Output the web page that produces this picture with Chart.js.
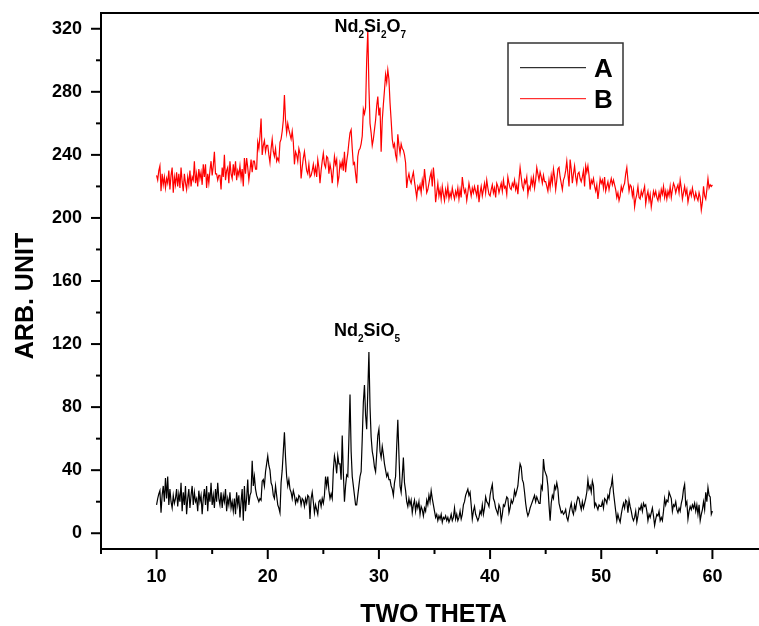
<!DOCTYPE html>
<html><head><meta charset="utf-8">
<script src="https://cdn.jsdelivr.net/npm/chart.js@4"></script>
<style>html,body{margin:0;padding:0;background:#fff;overflow:hidden;width:759px;height:626px}canvas{display:block}</style>
</head><body>
<canvas id="c" width="768" height="626"></canvas>
<script>
// ---- data ----
const X_START = 10, X_STEP = 0.1;           // two-theta sampling of both scans (10 .. 60)
const SERIES_NAMES = ['A', 'B'];
const SERIES_A = [
18,22,25,27,13,24,30,20,35,22,
36,18,28,20,16,24,19,22,28,17,
25,20,32,14,26,18,30,12,22,28,
16,24,30,18,26,20,22,14,27,20,
24,12,22,28,18,30,14,26,20,32,
18,24,16,28,20,32,22,18,26,16,
24,20,28,14,22,18,26,16,20,14,
22,12,26,18,24,10,20,28,8,30,
14,22,34,18,24,26,46,30,36,28,
24,22,20,22,21,33,34,30,39,44,
49,43,40,32,30,24,22,30,24,18,
16,13,32,40,52,64,48,36,30,34,
28,26,22,27,24,19,22,20,24,23,
18,22,21,17,22,19,24,23,9,22,
26,20,13,18,15,12,20,21,17,22,
19,24,36,30,36,27,22,25,22,40,
49,45,38,49,44,44,34,62,38,20,
30,37,36,60,88,52,36,30,24,18,
18,24,30,36,39,60,83,94,75,66,
90,115,80,61,52,48,42,39,50,62,
66,52,48,55,50,44,40,36,38,34,
34,30,28,24,32,36,55,72,50,30,
26,36,48,32,27,20,17,22,18,21,
13,18,21,14,19,16,20,12,17,15,
11,16,14,21,18,24,20,27,22,18,
14,10,12,8,11,9,12,7,10,9,
11,8,10,7,9,12,8,10,16,9,
12,8,10,14,9,12,18,20,24,26,
28,24,26,18,9,14,17,12,10,8,
10,14,12,18,12,16,23,20,19,17,
24,28,31,22,20,16,14,12,18,16,
8,12,18,17,20,23,22,13,16,21,
19,21,27,24,27,30,38,44,42,34,
32,26,19,14,11,13,16,18,20,22,
24,20,23,21,19,19,30,28,47,40,
38,36,30,18,8,19,24,22,30,28,
32,28,19,16,13,14,12,13,15,10,
8,12,16,19,14,12,18,15,20,23,
22,18,15,20,16,19,22,26,34,28,
30,26,33,30,17,19,17,15,18,17,
17,20,16,22,21,19,24,22,28,30,
35,26,20,14,8,12,9,7,12,16,
19,16,21,20,13,21,17,14,10,8,
10,14,7,11,16,15,18,14,19,17,
18,14,8,12,10,13,16,11,5,9,
12,11,14,8,10,8,14,22,18,21,
20,26,24,22,14,18,17,20,15,13,
16,14,19,22,28,31,18,20,9,14,
17,15,18,16,19,14,18,12,18,8,
12,15,20,15,26,20,29,24,23,12,
14];
const SERIES_B = [
227,224,230,233,217,228,221,226,219,225,
222,230,218,227,232,216,226,221,229,220,
228,219,232,223,217,228,222,218,226,221,
230,220,226,224,236,222,228,220,231,225,
229,221,234,226,234,219,228,222,230,236,
227,233,242,228,228,224,227,227,218,232,
226,240,224,230,232,222,236,228,225,234,
227,236,224,230,227,233,225,231,220,238,
228,238,232,224,230,237,229,236,236,231,
231,248,244,252,263,240,246,249,242,246,
246,240,235,244,250,242,239,244,236,238,
236,248,250,255,262,278,262,254,260,256,
253,250,255,248,234,242,240,236,244,241,
225,232,238,242,236,230,228,234,226,227,
230,234,228,232,226,237,232,222,230,236,
241,234,232,239,238,228,234,230,222,230,
239,234,237,222,226,235,232,236,230,242,
229,236,241,248,254,256,244,234,235,228,
222,239,243,244,247,252,269,266,270,300,
319,283,260,254,246,250,256,262,271,277,
265,270,242,262,272,281,291,286,294,288,
273,262,250,245,247,240,237,253,246,241,
247,244,243,240,235,219,225,228,224,222,
226,229,223,218,213,220,218,221,216,224,
220,231,224,216,218,222,226,229,220,232,
224,210,216,222,214,218,212,220,215,211,
218,214,220,212,216,213,219,215,212,217,
214,219,212,218,213,226,220,216,218,211,
216,222,218,214,219,216,220,217,214,221,
210,216,220,214,218,222,216,224,219,215,
214,218,221,216,219,213,222,220,216,219,
222,217,224,219,220,215,226,222,219,218,
222,220,224,218,221,215,224,232,226,220,
218,224,222,226,215,220,218,225,221,226,
219,224,232,228,224,229,226,222,227,223,
223,220,217,224,219,227,222,231,226,218,
224,231,232,226,222,218,224,226,230,236,
228,220,237,231,222,228,233,226,222,228,
229,225,223,226,230,220,233,229,233,227,
218,224,222,225,220,217,221,212,218,225,
222,224,219,226,217,220,223,218,222,225,
221,224,221,218,213,216,211,214,220,217,
220,222,228,232,224,217,221,220,214,218,
207,212,215,220,213,212,217,214,217,220,
209,214,217,211,215,207,212,217,214,217,
213,211,216,212,218,215,220,213,217,212,
217,214,220,213,218,222,220,216,219,221,
216,224,219,212,216,220,215,218,210,214,
217,214,219,215,212,216,213,211,216,213,
205,210,220,214,212,218,225,219,221,220,
221];
const X_TICKS = [10, 20, 30, 40, 50, 60];
const X_MINOR_TICKS = [5, 15, 25, 35, 45, 55, 65];
const Y_TICKS = [0, 40, 80, 120, 160, 200, 240, 280, 320];
const Y_MINOR_TICKS = [20, 60, 100, 140, 180, 220, 260, 300];
const X_TITLE = 'TWO THETA';
const Y_TITLE = 'ARB. UNIT';
// peak labels: [text, isSubscript]
const LABEL_B = [['Nd',0],['2',1],['Si',0],['2',1],['O',0],['7',1]];
const LABEL_A = [['Nd',0],['2',1],['Si',0],['O',0],['5',1]];
const LABEL_B_AT = {x: 26.0, y: 318};
const LABEL_A_AT = {x: 25.95, y: 125.4};

// ---- build ----
const FONT = '"Liberation Sans", Arial, Helvetica, sans-serif';
const toPoints = arr => arr.map((v, i) => ({x: +(X_START + i * X_STEP).toFixed(2), y: v}));

function drawParts(ctx, parts, x, y) {
  let cx = x;
  ctx.textAlign = 'left';
  ctx.textBaseline = 'alphabetic';
  parts.forEach(([t, sub]) => {
    ctx.font = sub ? 'bold 10px ' + FONT : 'bold 18px ' + FONT;
    ctx.fillText(t, cx, y + (sub ? 6 : 0));
    cx += ctx.measureText(t).width;
  });
}

const decor = {
  id: 'decor',
  afterDraw(chart) {
    const ctx = chart.ctx, ca = chart.chartArea, xs = chart.scales.x, ys = chart.scales.y;
    ctx.save();
    ctx.strokeStyle = '#000';
    ctx.fillStyle = '#000';
    ctx.lineWidth = 2;
    // top frame line
    ctx.beginPath(); ctx.moveTo(ca.left - 1, ca.top); ctx.lineTo(ca.right + 2, ca.top); ctx.stroke();
    // ticks
    const seg = (x1, y1, x2, y2) => { ctx.beginPath(); ctx.moveTo(x1, y1); ctx.lineTo(x2, y2); ctx.stroke(); };
    Y_TICKS.forEach(v => { const p = ys.getPixelForValue(v); seg(ca.left, p, ca.left - 10, p); });
    Y_MINOR_TICKS.forEach(v => { const p = ys.getPixelForValue(v); seg(ca.left, p, ca.left - 5, p); });
    X_TICKS.forEach(v => { const p = xs.getPixelForValue(v); seg(p, ca.bottom, p, ca.bottom + 10); });
    X_MINOR_TICKS.forEach(v => { const p = xs.getPixelForValue(v); seg(p, ca.bottom, p, ca.bottom + 5); });
    // axis titles
    ctx.font = 'bold 25px ' + FONT;
    ctx.textAlign = 'center'; ctx.textBaseline = 'alphabetic';
    ctx.fillText(X_TITLE, (ca.left + ca.right) / 2 - 1, 622);
    ctx.save();
    ctx.translate(33, 296); ctx.rotate(-Math.PI / 2);
    ctx.fillText(Y_TITLE, 0, 0);
    ctx.restore();
    // peak labels
    drawParts(ctx, LABEL_B, xs.getPixelForValue(LABEL_B_AT.x), ys.getPixelForValue(LABEL_B_AT.y));
    drawParts(ctx, LABEL_A, xs.getPixelForValue(LABEL_A_AT.x), ys.getPixelForValue(LABEL_A_AT.y));
    // legend box
    const lx = 508, ly = 43, lw = 115, lh = 82;
    ctx.lineWidth = 1.5; ctx.strokeStyle = '#333';
    ctx.strokeRect(lx, ly, lw, lh);
    const ds = chart.data.datasets;
    [67.7, 98.7].forEach((yy, i) => {
      ctx.strokeStyle = ds[i].borderColor; ctx.lineWidth = 1;
      seg(lx + 12, yy, lx + 78, yy);
      ctx.font = 'bold 26px ' + FONT; ctx.textAlign = 'left'; ctx.fillStyle = '#000';
      ctx.fillText(ds[i].label, lx + 86, yy + 9.6);
    });
    ctx.restore();
  }
};

const tickFont = {family: FONT, size: 18, weight: 'bold'};
new Chart(document.getElementById('c'), {
  type: 'line',
  data: {
    datasets: [
      {label: SERIES_NAMES[0], data: toPoints(SERIES_A), borderColor: '#000000', borderWidth: 1.2, pointRadius: 0, tension: 0, fill: false},
      {label: SERIES_NAMES[1], data: toPoints(SERIES_B), borderColor: '#ff0000', borderWidth: 1.2, pointRadius: 0, tension: 0, fill: false}
    ]
  },
  options: {
    responsive: false,
    animation: false,
    devicePixelRatio: 1,
    layout: {padding: {top: 13, left: 0, right: 0, bottom: 0}},
    plugins: {legend: {display: false}, tooltip: {enabled: false}},
    scales: {
      x: {
        type: 'linear', min: 5, max: 65,
        afterBuildTicks: s => { s.ticks = X_TICKS.map(v => ({value: v})); },
        afterFit: s => { s.height = 77; s.paddingLeft = 0; s.paddingRight = 0; },
        grid: {display: false, drawTicks: false},
        border: {display: true, color: '#000', width: 2},
        ticks: {color: '#000', font: tickFont, padding: 17, maxRotation: 0, autoSkip: false}
      },
      y: {
        type: 'linear', min: -10, max: 330,
        afterBuildTicks: s => { s.ticks = Y_TICKS.map(v => ({value: v})); },
        afterFit: s => { s.width = 101; s.paddingTop = 0; s.paddingBottom = 0; },
        grid: {display: false, drawTicks: false},
        border: {display: true, color: '#000', width: 2},
        ticks: {color: '#000', font: tickFont, padding: 19, autoSkip: false}
      }
    }
  },
  plugins: [decor]
});
</script>
</body></html>
